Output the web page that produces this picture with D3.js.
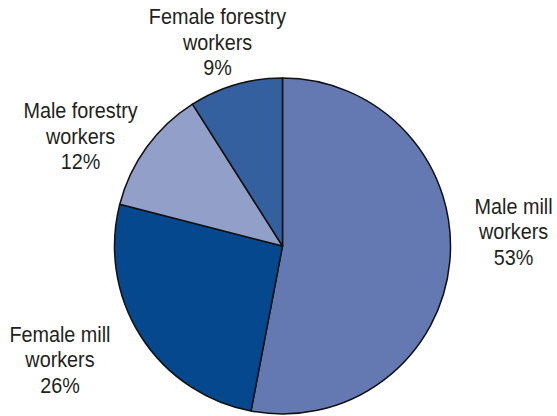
<!DOCTYPE html>
<html>
<head>
<meta charset="utf-8">
<script src="https://cdnjs.cloudflare.com/ajax/libs/d3/7.8.5/d3.min.js"></script>
<style>
    body { margin: 0; background: #fff; }
    text { font-family: "Liberation Sans", Arial, sans-serif; fill: #231f20; }
</style>
</head>
<body>
<div id="viz"></div>
<script>
const categories = ["Male mill workers", "Female mill workers", "Male forestry workers", "Female forestry workers"];
const labelLines = [["Male mill", "workers"], ["Female mill", "workers"], ["Male forestry", "workers"], ["Female forestry", "workers"]];
const shares = [53, 26, 12, 9];
const colors = ["#6479b1", "#05488e", "#919fc9", "#35609f"];

// nudges applied on top of the label arc centroid
const labelNudge = [[17, -27], [-41, 6], [-28, 24], [-5, 10]];

const width = 557;
const height = 416;
const cx = 282.5;
const cy = 246;
const radius = 168;
const lineHeight = 25.5;

const data = categories.map((c, i) => ({ name: c, value: shares[i], lines: labelLines[i], i: i }));

const svg = d3.select('#viz')
              .append('svg')
              .attr('width', width)
              .attr('height', height);

const g = svg.append('g')
             .attr('transform', 'translate(' + cx + ',' + cy + ')');

const pie = d3.pie().value(d => d.value).sort(null);
const arc = d3.arc().innerRadius(0).outerRadius(radius);
const labelArc = d3.arc().innerRadius(215).outerRadius(215);

const arcs = pie(data);

g.selectAll('path')
 .data(arcs)
 .enter()
 .append('path')
 .attr('d', arc)
 .attr('fill', d => colors[d.data.i])
 .attr('stroke', '#111')
 .attr('stroke-width', 1.5)
 .attr('stroke-linejoin', 'round');

// condensed look: squeeze the regular sans horizontally
const labels = g.selectAll('.label')
                .data(arcs)
                .enter()
                .append('text')
                .attr('class', 'label')
                .attr('text-anchor', 'middle')
                .attr('font-size', 22)
                .attr('transform', d => {
                    const c = labelArc.centroid(d);
                    const n = labelNudge[d.data.i];
                    return 'translate(' + (c[0] + n[0]) + ',' + (c[1] + n[1]) + ') scale(0.9,1)';
                });

labels.each(function(d) {
    const t = d3.select(this);
    const lines = [...d.data.lines, d.data.value + '%'];
    lines.forEach((l, k) => {
        t.append('tspan')
         .attr('x', 0)
         .attr('y', (k - 1) * lineHeight)
         .text(l);
    });
});
</script>
</body>
</html>
